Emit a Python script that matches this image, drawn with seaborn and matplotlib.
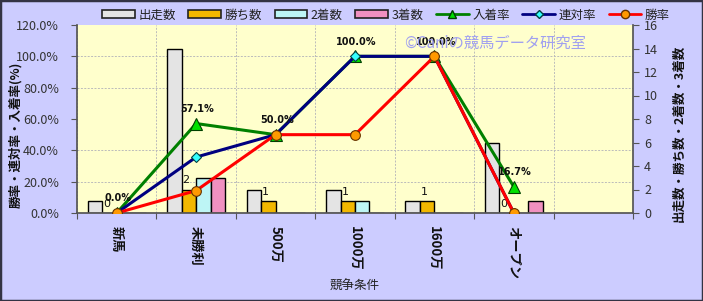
import numpy as np
import pandas as pd
import matplotlib
matplotlib.use("Agg")
import matplotlib.pyplot as plt
from matplotlib.patches import Patch, Rectangle
from matplotlib.lines import Line2D
from matplotlib.ticker import FixedLocator, FuncFormatter
import seaborn as sns

# ---- data ----
categories = ["新馬", "未勝利", "500万", "1000万", "1600万", "オープン"]
starts = [1, 14, 2, 2, 1, 6]        # 出走数
wins = [0, 2, 1, 1, 1, 0]           # 勝ち数
seconds = [0, 3, 0, 1, 0, 0]        # 2着数
thirds = [0, 3, 0, 0, 0, 1]         # 3着数
place_rate = [0.0, 57.1, 50.0, 100.0, 100.0, 16.7]   # 入着率
quinella_rate = [0.0, 35.7, 50.0, 100.0, 100.0, 0.0]  # 連対率
win_rate = [0.0, 14.3, 50.0, 50.0, 100.0, 0.0]        # 勝率
place_labels = ["0.0%", "57.1%", "50.0%", "100.0%", "100.0%", "16.7%"]
n_slots = 7

bar_names = ["出走数", "勝ち数", "2着数", "3着数"]
bar_colors = ["#E4E4E4", "#F2B800", "#BDF5F5", "#F090C0"]

sns.set_theme(style="white")
plt.rcParams["font.family"] = ["Noto Sans CJK JP", "DejaVu Sans"]

fig = plt.figure(figsize=(7.03, 3.01), dpi=100)
fig.patch.set_facecolor("#CCCCFF")

W, H = 703, 301
L, R, T, B = 77, 633, 25, 213
PW, PH = R - L, B - T
axc = fig.add_axes([L / W, 1 - B / H, PW / W, PH / H])
axc.set_facecolor("#FFFFCC")

df = pd.DataFrame({
    "条件": categories * 4,
    "項目": sum([[n] * len(categories) for n in bar_names], []),
    "数": starts + wins + seconds + thirds,
})
sns.barplot(data=df, x="条件", y="数", hue="項目", hue_order=bar_names,
            palette=bar_colors, width=0.73, edgecolor="black", linewidth=1.0,
            saturation=1, ax=axc, legend=False, zorder=2)

# ---- rates axis (created now, so the count axis can be re-sided afterwards) ----
axr = axc.twinx()

axc.set_xlim(-0.5, n_slots - 0.5)
axc.set_ylim(0, 16)
axc.yaxis.tick_right()
axc.yaxis.set_label_position("right")
axc.set_yticks(np.arange(0, 17, 2))
axc.set_xlabel("競争条件", fontsize=9, color="#222222")
axc.xaxis.set_label_coords((355 - L) / PW, -(280 - B) / PH)
axc.set_ylabel("出走数・勝ち数・2着数・3着数", fontsize=9, fontweight="bold",
               color="#111111")
axc.yaxis.set_label_coords((673 - L) / PW, (B - 133) / PH)
axc.set_xticks(range(len(categories)))
axc.set_xticklabels(categories, rotation=-90, fontsize=9.5, fontweight="bold",
                    color="#111111")
axc.xaxis.set_minor_locator(FixedLocator(np.arange(-0.5, n_slots, 1.0)))
axc.tick_params(axis="x", which="major", length=0, pad=9)
axc.tick_params(axis="x", which="minor", length=4, width=0.8, color="#555555", bottom=True)
axc.tick_params(axis="y", which="major", length=4, width=0.8, color="#555555",
                labelsize=9, labelcolor="#333333", right=True, left=False,
                labelright=True, labelleft=False, pad=4)
# horizontal grid aligned to the rate axis (every 20%)
axc.yaxis.set_minor_locator(FixedLocator(np.arange(20, 120, 20) * 16 / 120))
axc.tick_params(axis="y", which="minor", length=0)
axc.grid(True, which="minor", axis="both", color="#BBBBBB", linestyle=(0, (2, 1.5)), linewidth=0.7)
axc.grid(False, which="major")
axc.set_axisbelow(True)
for s in ["top", "left"]:
    axc.spines[s].set_visible(False)
axc.spines["bottom"].set_color("#555555")
axc.spines["right"].set_color("#555555")

# bar value labels on 勝ち数
win_bars = axc.containers[1]
for rect, v in zip(win_bars, wins):
    cx = rect.get_x() + rect.get_width() / 2
    axc.annotate(str(v), (cx, v), xytext=(-2, 3), textcoords="offset points",
                 ha="center", va="bottom", fontsize=8, color="#111111",
                 family="DejaVu Sans")

axr.yaxis.tick_left()
axr.yaxis.set_label_position("left")
axr.set_ylim(0, 120)
axr.set_yticks(np.arange(0, 121, 20))
axr.yaxis.set_major_formatter(FuncFormatter(lambda v, p: f"{v:.1f}%"))
axr.tick_params(axis="y", length=4, width=0.8, color="#555555", labelsize=9,
                labelcolor="#333333", left=True, right=False, labelleft=True,
                labelright=False, pad=9)
axr.set_ylabel("勝率・連対率・入着率(%)", fontsize=9, fontweight="bold", color="#111111")
axr.yaxis.set_label_coords(-(L - 22) / PW, (B - 135) / PH)
for s in ["top", "right", "bottom"]:
    axr.spines[s].set_visible(False)
axr.spines["left"].set_color("#555555")

xs = np.arange(len(categories))
sns.lineplot(x=xs, y=place_rate, ax=axr, color="#008000", linewidth=2.2,
             marker="^", markersize=8, markerfacecolor="#00E000", markeredgecolor="#004000",
             markeredgewidth=0.8, zorder=3)
sns.lineplot(x=xs, y=quinella_rate, ax=axr, color="#000080", linewidth=2.2,
             marker="D", markersize=5.5, markerfacecolor="#33FFFF", markeredgecolor="#004040",
             markeredgewidth=0.8, zorder=4)
sns.lineplot(x=xs, y=win_rate, ax=axr, color="#FF0000", linewidth=2.2,
             marker="o", markersize=7, markerfacecolor="#FF9900", markeredgecolor="#663300",
             markeredgewidth=0.8, zorder=5)
axr.set_xlim(-0.5, n_slots - 0.5)

for x, y, lab in zip(xs, place_rate, place_labels):
    axr.annotate(lab, (x, y), xytext=(1, 7), textcoords="offset points",
                 ha="center", va="bottom", fontsize=7, fontweight="bold",
                 color="#111111", family="DejaVu Sans", zorder=6)

# ---- legend ----
handles = [Patch(facecolor=c, edgecolor="#222222", linewidth=1.2) for c in bar_colors]
handles += [
    Line2D([], [], color="#008000", lw=2, marker="^", markersize=6,
           markerfacecolor="#00E000", markeredgecolor="#004000"),
    Line2D([], [], color="#000080", lw=2, marker="D", markersize=4.5,
           markerfacecolor="#33FFFF", markeredgecolor="#004040"),
    Line2D([], [], color="#FF0000", lw=2, marker="o", markersize=6,
           markerfacecolor="#FF9900", markeredgecolor="#663300"),
]
labels = bar_names + ["入着率", "連対率", "勝率"]
fig.legend(handles, labels, loc="center", bbox_to_anchor=(386 / W, 1 - 15 / H), ncol=7,
           frameon=False, fontsize=9, handlelength=2.6, handleheight=0.6,
           columnspacing=1.0, handletextpad=0.3, labelcolor="#222222")

# watermark
fig.text(495 / W, 1 - 43 / H, "©Caniの競馬データ研究室", ha="center", va="center",
         fontsize=11, color="#A0A0F0")

# figure border
fig.add_artist(Rectangle((0, 0), 1, 1, transform=fig.transFigure, fill=False,
                         edgecolor="#333344", linewidth=2.5))

fig.savefig("out.png", dpi=100, facecolor=fig.get_facecolor())
